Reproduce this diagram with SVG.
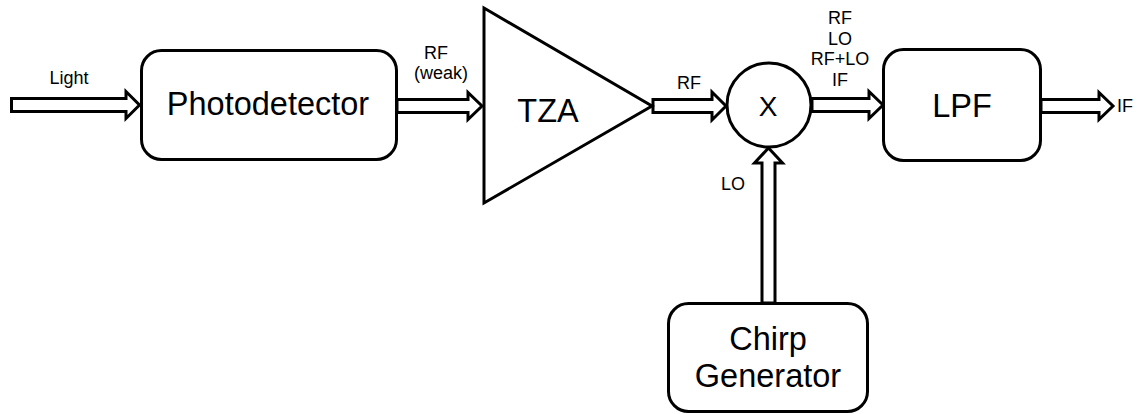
<svg xmlns="http://www.w3.org/2000/svg" width="1139" height="414" viewBox="0 0 1139 414">
  <style>
    .blk { fill: #ffffff; stroke: #000000; stroke-width: 3; }
    .arr { fill: #ffffff; stroke: #000000; stroke-width: 3; stroke-linejoin: miter; stroke-miterlimit: 10; }
    .big { font-family: "Liberation Sans", Arial, sans-serif; font-size: 32.5px; fill: #000000; text-anchor: middle; }
    .lbl { font-family: "Liberation Sans", Arial, sans-serif; font-size: 18px; fill: #000000; text-anchor: middle; }
  </style>
  <rect width="1139" height="414" fill="#ffffff"/>

  <!-- hollow block arrows between stages -->
  <g id="connectors">
    <polygon class="arr" points="11.5,98.5 126,98.5 126,91.5 139.5,105 126,118.5 126,111.5 11.5,111.5"/>
    <polygon class="arr" points="397,99.5 468,99.5 468,92.5 482,106 468,119.5 468,112.5 397,112.5"/>
    <polygon class="arr" points="653,99.5 712,99.5 712,92 726,106 712,120 712,112.5 653,112.5"/>
    <polygon class="arr" points="812,98.5 869,98.5 869,91.5 883,105 869,118.5 869,111.5 812,111.5"/>
    <polygon class="arr" points="1041,99.5 1099,99.5 1099,92.5 1113,106 1099,119.5 1099,112.5 1041,112.5"/>
    <polygon class="arr" points="762,303 762,163 754.5,163 768.5,148 782.5,163 775,163 775,303"/>
  </g>

  <!-- signal labels -->
  <g id="labels">
    <text class="lbl" x="69" y="84">Light</text>
    <text class="lbl" x="436" y="59">RF</text>
    <text class="lbl" x="441" y="79">(weak)</text>
    <text class="lbl" x="689" y="89">RF</text>
    <text class="lbl" x="840" y="24">RF</text>
    <text class="lbl" x="840" y="45">LO</text>
    <text class="lbl" x="840" y="65">RF+LO</text>
    <text class="lbl" x="840" y="86">IF</text>
    <text class="lbl" x="733" y="190">LO</text>
    <text class="lbl" x="1117" y="112" style="text-anchor:start">IF</text>
  </g>

  <g id="photodetector">
    <rect class="blk" x="141.5" y="50.5" width="255" height="109" rx="20" ry="20"/>
    <text class="big" x="268" y="115">Photodetector</text>
  </g>

  <g id="tza">
    <polygon class="blk" points="484,8 652,106 484,203"/>
    <text class="big" x="548" y="122">TZA</text>
  </g>

  <g id="mixer">
    <circle class="blk" cx="769" cy="105" r="42"/>
    <text class="big" x="768" y="116" style="font-size:28px">X</text>
  </g>

  <g id="lpf">
    <rect class="blk" x="883.5" y="49.5" width="157" height="111" rx="20" ry="20"/>
    <text class="big" x="962" y="117">LPF</text>
  </g>

  <g id="chirp-generator">
    <rect class="blk" x="668.5" y="303.5" width="199" height="108" rx="20" ry="20"/>
    <text class="big" x="768" y="350">Chirp</text>
    <text class="big" x="768" y="387">Generator</text>
  </g>
</svg>
